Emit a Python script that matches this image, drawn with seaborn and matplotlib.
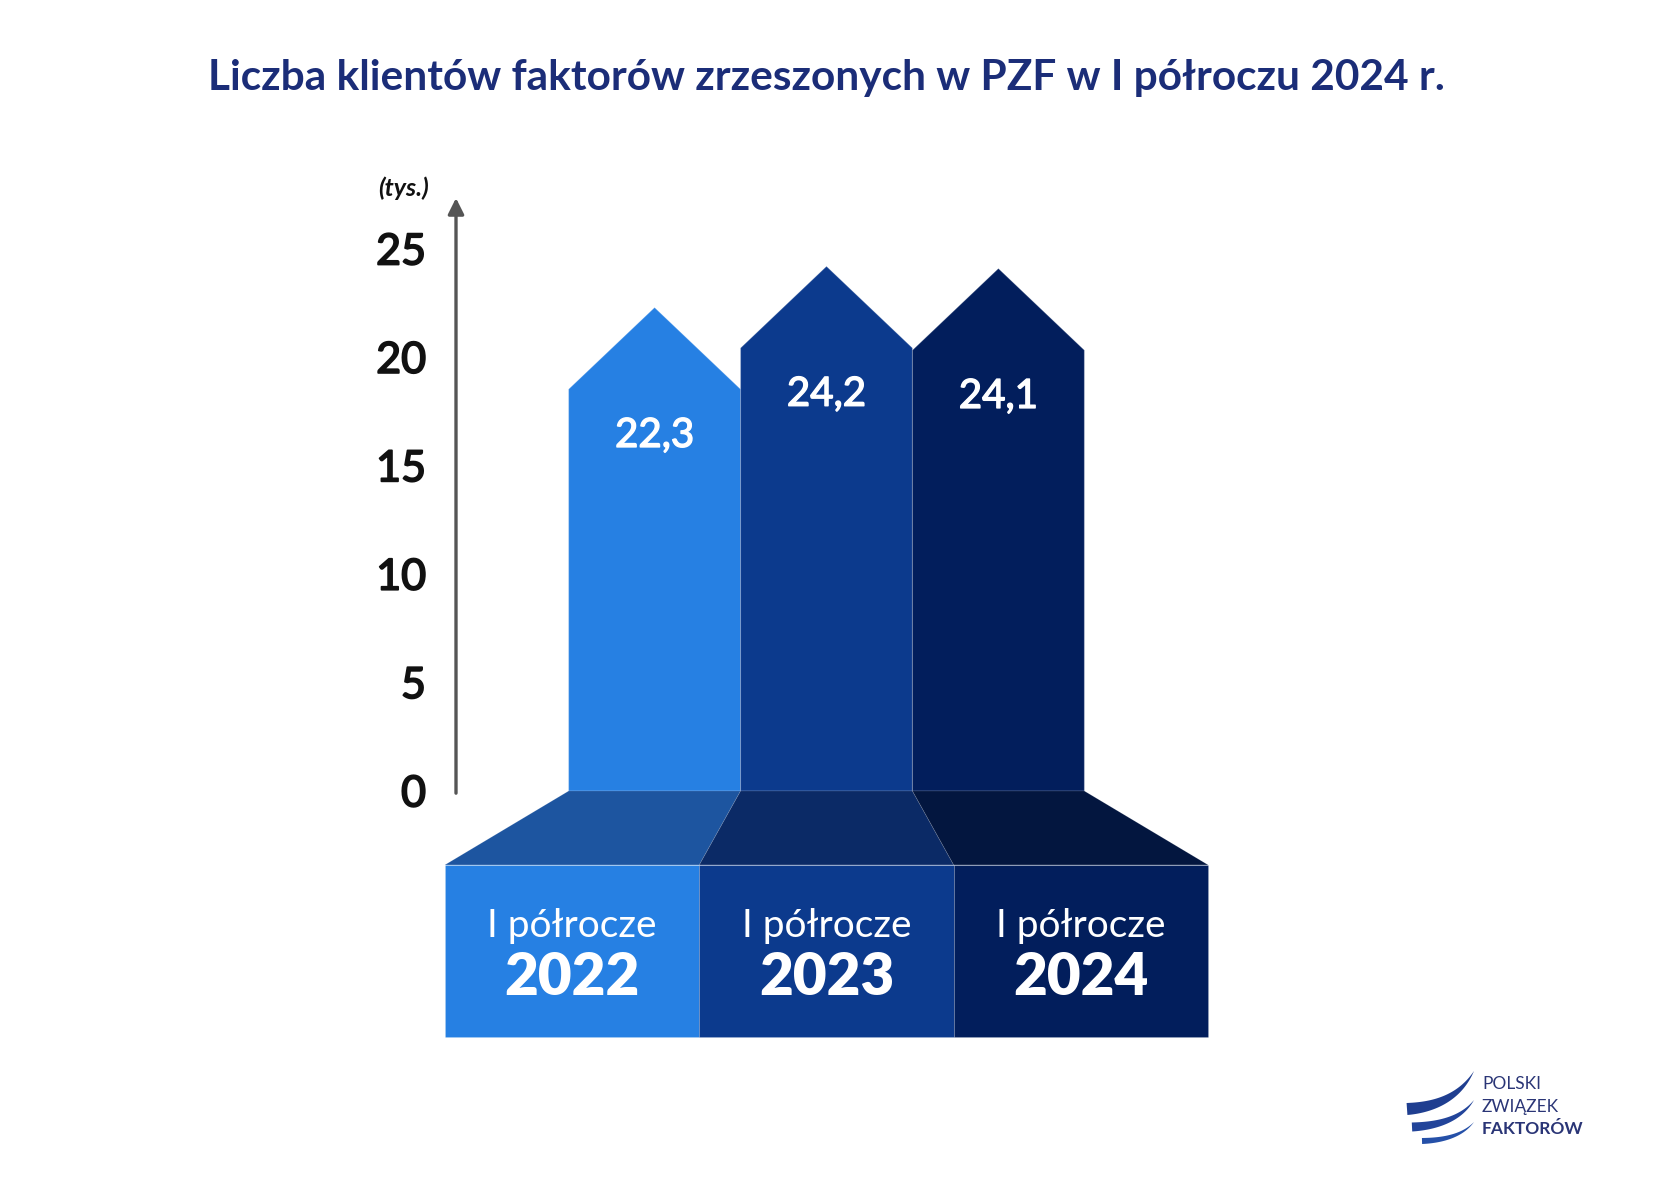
import numpy as np
import pandas as pd
import matplotlib
matplotlib.use("Agg")
import matplotlib.pyplot as plt
import matplotlib.patheffects as pe
import seaborn as sns
from matplotlib.patches import Polygon, Rectangle

# ---------------- data ----------------
title = "Liczba klientów faktorów zrzeszonych w PZF w I półroczu 2024 r."
periods = ["I półrocze 2022", "I półrocze 2023", "I półrocze 2024"]
period_top = ["I półrocze", "I półrocze", "I półrocze"]
period_year = ["2022", "2023", "2024"]
values = [22.3, 24.2, 24.1]
value_labels = ["22,3", "24,2", "24,1"]
y_ticks = [0, 5, 10, 15, 20, 25]
unit_label = "(tys.)"
logo_lines = ["POLSKI", "ZWIĄZEK", "FAKTORÓW"]

bar_colors = ["#2680E3", "#0C3A8D", "#021E5C"]
base_colors = ["#1D55A0", "#0B2A66", "#03163F"]

# ---------------- setup ----------------
sns.set_theme(style="white")
plt.rcParams["font.family"] = ["Lato", "DejaVu Sans"]

W, H = 1654, 1193
fig = plt.figure(figsize=(W / 100, H / 100), dpi=100)
fig.patch.set_facecolor("white")

y0_px, ppu_y = 791.0, 21.68
ylo, yhi = -11.5, 28.5
xlo, xhi = -1.225, 3.225
ax_left_px, ax_right_px = 444.0, 1209.0
ax_bottom_px = y0_px - ylo * ppu_y
ax_top_px = y0_px - yhi * ppu_y
ppu_x = (ax_right_px - ax_left_px) / (xhi - xlo)

ax = fig.add_axes([ax_left_px / W, 1 - ax_bottom_px / H,
                   (ax_right_px - ax_left_px) / W, (ax_bottom_px - ax_top_px) / H])

df = pd.DataFrame({"period": periods, "value": values})
sns.barplot(data=df, x="period", y="value", hue="period", palette=bar_colors,
            width=1.0, saturation=1, legend=False, ax=ax)

ax.set_xlim(xlo, xhi)
ax.set_ylim(ylo, yhi)
for s in ax.spines.values():
    s.set_visible(False)
ax.set_facecolor("none")
ax.set_xticks([])
ax.set_xlabel("")
ax.set_ylabel("")
ax.set_yticks(y_ticks)
ax.set_yticklabels([str(t) for t in y_ticks])
ax.tick_params(axis="y", length=0, pad=13, labelsize=31, labelcolor="#111111")
for lab in ax.get_yticklabels():
    lab.set_path_effects([pe.withStroke(linewidth=1.3, foreground="#111111")])

bars = sorted(ax.patches, key=lambda p: p.get_x())
centers = [p.get_x() + p.get_width() / 2 for p in bars]
mid = float(np.mean(centers))
spread = 1.48
depth = 3.41
box_bottom = -11.34

for i, p in enumerate(bars):
    x0, w, h = p.get_x(), p.get_width(), p.get_height()
    fc = p.get_facecolor()
    drop = (w / 2 * ppu_x) / ppu_y * 0.95
    p.set_visible(False)
    ax.add_patch(Polygon([(x0, 0), (x0 + w, 0), (x0 + w, h - drop), (x0 + w / 2, h), (x0, h - drop)],
                         closed=True, facecolor=fc, edgecolor=(1, 1, 1, 0.18), linewidth=0.8, zorder=2))
    ax.text(x0 + w / 2, h - 5.9, value_labels[i], ha="center", va="center", color="white",
            fontsize=29, zorder=4,
            path_effects=[pe.withStroke(linewidth=1.0, foreground="white")])

    c = mid + (centers[i] - mid) * spread
    bx0, bx1 = c - spread / 2, c + spread / 2
    ax.add_patch(Polygon([(x0, 0), (x0 + w, 0), (bx1, -depth), (bx0, -depth)], closed=True,
                         facecolor=base_colors[i], edgecolor=(1, 1, 1, 0.12), linewidth=0.6, zorder=2))
    ax.add_patch(Rectangle((bx0, box_bottom), spread, -depth - box_bottom, facecolor=fc,
                           edgecolor=(1, 1, 1, 0.15), linewidth=0.6, zorder=2))
    ax.text(c, -6.22, period_top[i], ha="center", va="center", color="white", fontsize=28, zorder=4)
    ax.text(c, -8.6, period_year[i], ha="center", va="center", color="white", fontsize=42,
            fontweight="heavy", zorder=4)

# axis arrow
xa = xlo + (456 - ax_left_px) / ppu_x
ax.annotate("", xy=(xa, 27.35), xytext=(xa, -0.1),
            arrowprops=dict(arrowstyle="-|>", color="#555555", lw=2.4, mutation_scale=24,
                            shrinkA=0, shrinkB=0), zorder=3)
ax.text(xlo + (404 - ax_left_px) / ppu_x, 27.8, unit_label, ha="center", va="center",
        fontsize=18, fontstyle="italic", fontweight="bold", color="#111111", clip_on=False)

# title
fig.text(826 / W, 1 - 78 / H, title, ha="center", va="center", fontsize=30.5,
         fontweight="bold", color="#1B2D78")

# logo
lax = fig.add_axes([0, 0, 1, 1])
lax.set_xlim(0, W)
lax.set_ylim(H, 0)
lax.axis("off")
lax.set_zorder(-1)


def crescent(p0, p1, p2, t0, color):
    t = np.linspace(0, 1, 60)[:, None]
    pts = (1 - t) ** 2 * np.array(p0) + 2 * (1 - t) * t * np.array(p1) + t ** 2 * np.array(p2)
    d = np.gradient(pts, axis=0)
    n = np.stack([-d[:, 1], d[:, 0]], axis=1)
    n /= np.linalg.norm(n, axis=1, keepdims=True)
    th = (t0 * (1 - t[:, 0] ** 1.3))[:, None] / 2
    poly = np.vstack([pts + n * th, (pts - n * th)[::-1]])
    lax.add_patch(Polygon(poly, closed=True, facecolor=color, edgecolor="none"))


crescent((1407, 1109), (1455, 1106), (1474, 1071), 12, "#1F3E90")
crescent((1412, 1127), (1457, 1125), (1474, 1100), 9, "#22449A")
crescent((1422, 1141), (1459, 1140), (1474, 1122), 6, "#2550A8")

for j, (txt, yy) in enumerate(zip(logo_lines, [1084, 1107, 1129])):
    fig.text(1482 / W, 1 - yy / H, txt, ha="left", va="center", fontsize=12.5,
             fontweight="bold" if j == 2 else "normal", color="#2A3576")

fig.savefig("out.png", dpi=100, facecolor="white")
